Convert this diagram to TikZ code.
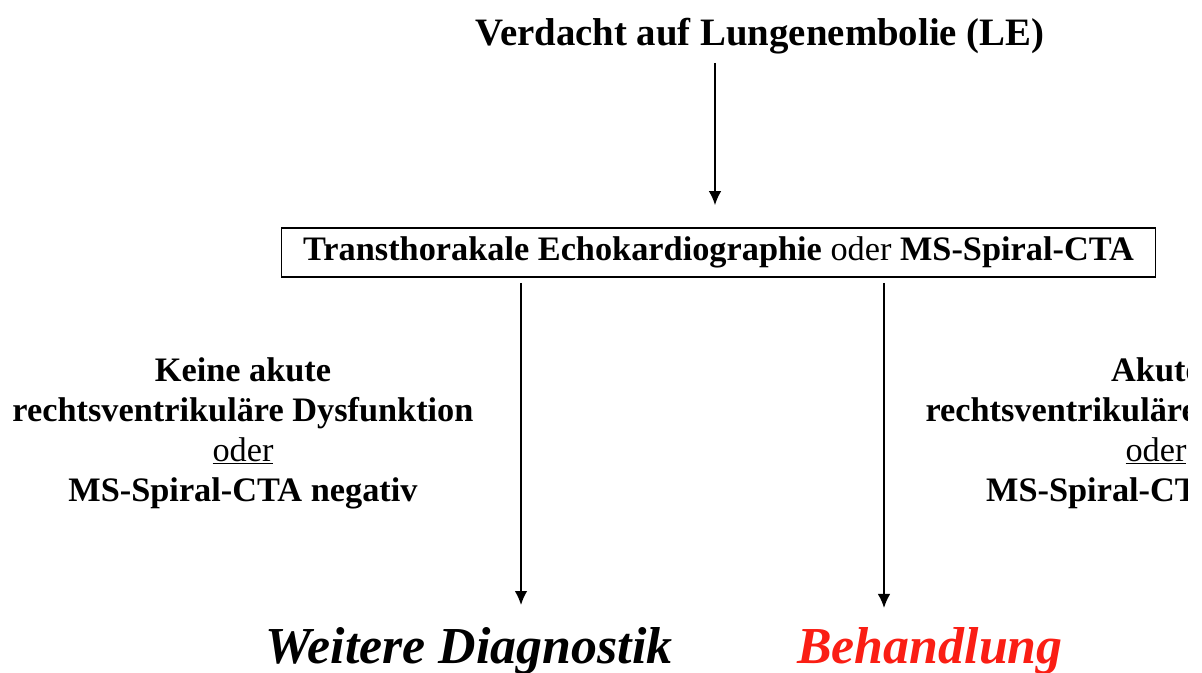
\documentclass[tikz,border=0pt]{standalone}
\usepackage{fontspec}
\setmainfont{Liberation Serif}
\usetikzlibrary{arrows.meta}
\usetikzlibrary{positioning}
\definecolor{behred}{RGB}{250,30,20}
\tikzset{
  % arrow tips and common styles
  >={Latex[length=10pt,width=9pt]},
  line/.style={draw, ->, line width=1.3pt},
  box/.style={draw, rectangle, line width=1.3pt, minimum width=#1, minimum height=34.7pt},
  decision/.style={align=center, inner sep=0pt, outer sep=0pt, font=\bfseries\fontsize{24.4}{28.3}\selectfont},
  result/.style={inner sep=0pt, outer sep=0pt, font=\bfseries\itshape\fontsize{36.9}{44}\selectfont}
}

\begin{document}
\begin{tikzpicture}[x=0.025cm, y=-0.025cm]
    \useasboundingbox (0,0) rectangle (1202,672);
    \clip (0,0) rectangle (1187,672);

    % Define nodes
    \node[decision, font=\bfseries\fontsize{27.6}{33}\selectfont, anchor=base] (verdacht) at (760,45) {Verdacht auf Lungenembolie (LE)};
    \node[box=621.5pt, decision] (echo) at (718.5,252.5) {Transthorakale Echokardiographie \textmd{oder} MS-Spiral-CTA};
    \node[decision, anchor=base] (keine) at (243,501) {Keine akute\\rechtsventrikuläre Dysfunktion\\\underline{\mdseries oder}\\MS-Spiral-CTA negativ};
    \node[decision, anchor=base] (akute) at (1156,501) {Akute\\rechtsventrikuläre Dysfunktion\\\underline{\mdseries oder}\\MS-Spiral-CTA positiv};
    \node[result, anchor=base] (weitere) at (469,663) {Weitere Diagnostik};
    \node[result, text=behred, anchor=base] (behandlung) at (930,663) {Behandlung};

    % Define connections
    \coordinate (mid) at (715,0);
    \coordinate (neg) at (521,0);
    \coordinate (pos) at (884,0);
    \path [line, shorten <=6.7pt, shorten >=16.3pt] (verdacht.south -| mid) -- (echo.north -| mid);
    \path [line, shorten <=4.3pt, shorten >=15.6pt] (echo.south -| neg) -- (weitere.north -| neg);
    \path [line, shorten <=4.3pt, shorten >=13.5pt] (echo.south -| pos) -- (behandlung.north -| pos);
\end{tikzpicture}
\end{document}
